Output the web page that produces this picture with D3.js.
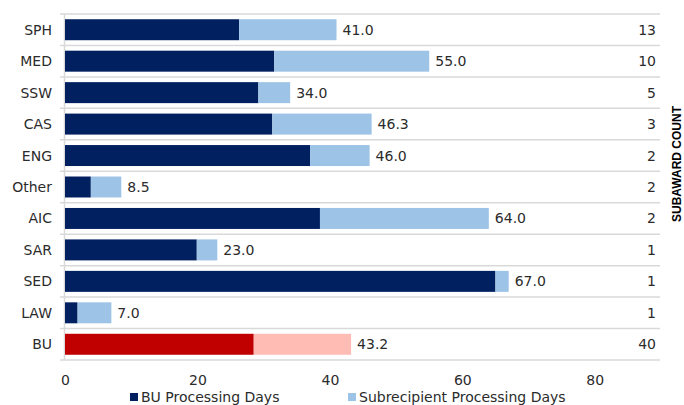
<!DOCTYPE html>
<html>
<head>
<meta charset="utf-8">
<script src="https://cdn.jsdelivr.net/npm/d3@7"></script>
<style>
  html, body { margin: 0; padding: 0; background: #fff; }
  svg { display: block; }
  text { font-family: "DejaVu Sans", Verdana, sans-serif; fill: #2b2b2b; }
</style>
</head>
<body>
<svg id="chart" width="684" height="405"></svg>
<script>
// Processing days by unit: BU portion + subrecipient portion = total
const units      = ["SPH", "MED", "SSW", "CAS", "ENG", "Other", "AIC", "SAR", "SED", "LAW", "BU"];
const buDays     = [26.3, 31.6, 29.2, 31.3, 37.0, 3.9, 38.5, 19.9, 65.0, 1.9, 28.5];
const totalDays  = [41.0, 55.0, 34.0, 46.3, 46.0, 8.5, 64.0, 23.0, 67.0, 7.0, 43.2];
const subawards  = [13, 10, 5, 3, 2, 2, 2, 1, 1, 1, 40];
const xTicks     = [0, 20, 40, 60, 80];
const seriesNames = ["BU Processing Days", "Subrecipient Processing Days"];

const colors = {
  bu: "#002060", sub: "#9dc3e6",
  buTotal: "#c00000", subTotal: "#ffbcb5",
  grid: "#d9d9d9"
};

const rows = units.map((u, i) => ({
  unit: u,
  bu: buDays[i],
  sub: +(totalDays[i] - buDays[i]).toFixed(1),
  total: totalDays[i],
  count: subawards[i],
  isTotal: u === "BU"
}));

const svg = d3.select("#chart");
const plot = { left: 65, top: 14, bottom: 360, right: 661 };

const x = d3.scaleLinear().domain([0, 90]).range([plot.left, plot.right]);
const y = d3.scaleBand()
  .domain(units)
  .range([plot.top, plot.bottom])
  .paddingInner(0.333)
  .paddingOuter(0.1665);

// row separators
const step = y.step();
svg.append("g").selectAll("line")
  .data(d3.range(units.length + 1))
  .join("line")
  .attr("x1", plot.left - 5).attr("x2", plot.right - 1)
  .attr("y1", i => plot.top + i * step).attr("y2", i => plot.top + i * step)
  .attr("stroke", colors.grid).attr("stroke-width", 1.5);

// vertical axis line
svg.append("line")
  .attr("x1", plot.left - 0.5).attr("x2", plot.left - 0.5)
  .attr("y1", plot.top).attr("y2", plot.bottom)
  .attr("stroke", colors.grid).attr("stroke-width", 1.5);

// stacked bars
const bars = svg.append("g");
bars.selectAll("rect.bu").data(rows).join("rect")
  .attr("class", "bu")
  .attr("x", x(0))
  .attr("y", d => y(d.unit))
  .attr("width", d => x(d.bu) - x(0))
  .attr("height", y.bandwidth())
  .attr("fill", d => d.isTotal ? colors.buTotal : colors.bu);

bars.selectAll("rect.sub").data(rows).join("rect")
  .attr("class", "sub")
  .attr("x", d => x(d.bu))
  .attr("y", d => y(d.unit))
  .attr("width", d => x(d.total) - x(d.bu))
  .attr("height", y.bandwidth())
  .attr("fill", d => d.isTotal ? colors.subTotal : colors.sub);

// total labels
svg.append("g").selectAll("text").data(rows).join("text")
  .attr("x", d => x(d.total) + 6)
  .attr("y", d => y(d.unit) + y.bandwidth() / 2)
  .attr("dy", "0.36em")
  .attr("font-size", 14)
  .text(d => d.total.toFixed(1));

// unit labels
svg.append("g").selectAll("text").data(rows).join("text")
  .attr("x", 52)
  .attr("y", d => y(d.unit) + y.bandwidth() / 2)
  .attr("dy", "0.36em")
  .attr("text-anchor", "end")
  .attr("font-size", 14)
  .text(d => d.unit);

// subaward counts
svg.append("g").selectAll("text").data(rows).join("text")
  .attr("x", 656)
  .attr("y", d => y(d.unit) + y.bandwidth() / 2)
  .attr("dy", "0.36em")
  .attr("text-anchor", "end")
  .attr("font-size", 14)
  .text(d => d.count);

svg.append("text")
  .attr("transform", "translate(681,164) rotate(-90)")
  .attr("text-anchor", "middle")
  .attr("font-size", 12)
  .style("font-family", "'Liberation Sans', Arial, sans-serif")
  .style("font-weight", "bold")
  .style("fill", "#000")
  .text("SUBAWARD COUNT");

// x axis tick labels
const xAxis = d3.axisBottom(x).tickValues(xTicks).tickSize(0).tickPadding(0);
const gx = svg.append("g").attr("transform", `translate(0,${plot.bottom})`).call(xAxis);
gx.select(".domain").remove();
gx.selectAll("text")
  .attr("y", 20)
  .attr("dy", "0.36em")
  .attr("font-size", 14)
  .style("font-family", "'DejaVu Sans', Verdana, sans-serif")
  .style("fill", "#2b2b2b");

// legend
const legendItems = [
  { name: seriesNames[0], color: colors.bu, x: 130 },
  { name: seriesNames[1], color: colors.sub, x: 348 }
];
const lg = svg.append("g");
legendItems.forEach(it => {
  lg.append("rect")
    .attr("x", it.x).attr("y", 393)
    .attr("width", 8).attr("height", 8)
    .attr("fill", it.color);
  lg.append("text")
    .attr("x", it.x + 11).attr("y", 397)
    .attr("dy", "0.36em")
    .attr("font-size", 14)
    .text(it.name);
});
</script>
</body>
</html>
